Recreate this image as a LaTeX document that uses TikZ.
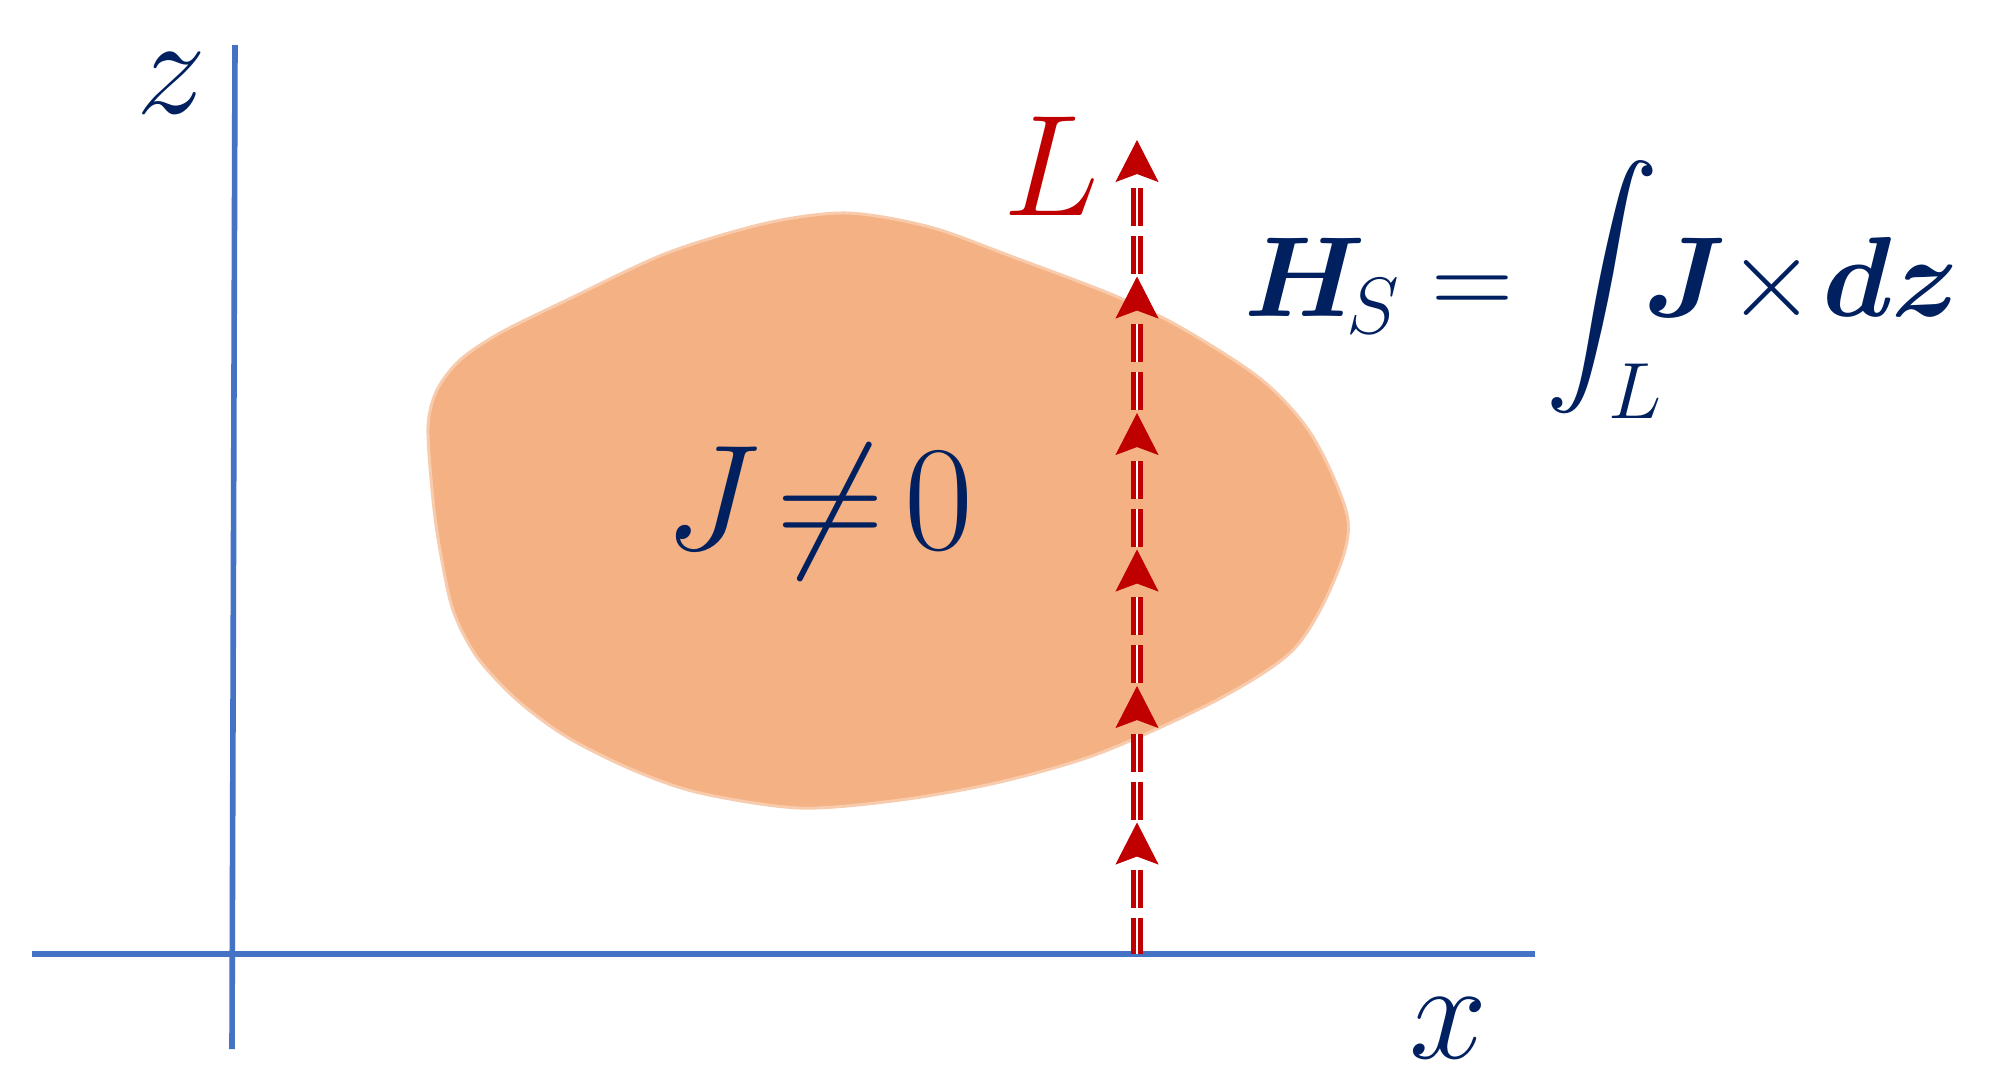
\documentclass[tikz,border=0pt]{standalone}
\usepackage{fix-cm}
\usepackage{amsmath}
\usepackage{bm}
\DeclareFontShape{OMX}{cmex}{m}{n}{<->cmex10}{}
\usetikzlibrary{arrows.meta,decorations.markings}
\definecolor{axisblue}{HTML}{4472C4}
\definecolor{navy}{HTML}{002060}
\definecolor{darkred}{HTML}{C00000}
\definecolor{blobfill}{HTML}{F4B183}
\definecolor{blobedge}{HTML}{F8CBAD}
\tikzset{
  axisline/.style={draw=axisblue, line width=2.8pt},
  axislabel/.style={text=navy, font=\fontsize{70}{80}\selectfont, inner sep=0pt, anchor=base},
  pathline/.style={draw=darkred, line width=2.6pt, double=white, double distance=0.8pt,
     dash pattern=on 19pt off 5pt on 19pt off 25.25pt, dash phase=1pt},
  tipmark/.tip={Stealth[length=21pt, width=21.5pt, inset=4pt]},
}
\begin{document}
\begin{tikzpicture}[x=0.5pt,y=-0.5pt]
\useasboundingbox (0,0) rectangle (1990,1089);
\fill[white] (0,0) rectangle (1990,1089);
% blob
\draw[fill=blobfill, draw=blobedge, line width=1.5pt]
  plot[smooth cycle, tension=0.5] coordinates {
  (847,213) (930,227) (1013,257) (1113,295) (1180,327) (1262,380) (1313,437)
  (1348,520) (1333,583) (1293,650) (1217,700) (1100,753) (1000,782) (900,800)
  (800,808) (700,793) (633,770) (567,737) (517,700) (477,657) (453,610)
  (440,550) (433,500) (428,427) (437,390) (460,360) (500,333) (567,300)
  (667,253) (767,223)};
% axes
\coordinate (zbot) at (232,1049);
\coordinate (ztop) at (235,45);
\coordinate (xleft) at (32,954);
\coordinate (xright) at (1535,954);
\draw[axisline] (zbot) -- (ztop);
\draw[axisline] (xleft) -- (xright);
\node[axislabel] (zlab) at (171,113) {$z$};
\node[axislabel] (xlab) at (1448,1058) {$x$};
% path L
\coordinate (Lbase) at (1137,954);
\coordinate (Ltop) at (1137,140);
\draw[pathline] (Lbase) -- (Ltop);
\path[decoration={markings,
   mark=at position 65.75pt with {\arrow[darkred]{tipmark}},
   mark=at position 134pt with {\arrow[darkred]{tipmark}},
   mark=at position 202.25pt with {\arrow[darkred]{tipmark}},
   mark=at position 270.5pt with {\arrow[darkred]{tipmark}},
   mark=at position 338.75pt with {\arrow[darkred]{tipmark}},
   mark=at position 1 with {\arrow[darkred]{tipmark}}},
   postaction=decorate] (Lbase) -- (Ltop);
\node[text=darkred, font=\fontsize{72}{80}\selectfont, inner sep=0pt, anchor=base] (Llab) at (1051,215) {$L$};
% labels
\node[text=navy, font=\fontsize{75}{85}\selectfont, inner sep=0pt, anchor=base] (jlab) at (819,549)
  {$J\mkern-3mu\neq\mkern-2.5mu 0$};
\node[text=navy, font=\fontsize{57}{66}\selectfont, inner sep=0pt, anchor=base west] (hs) at (1244,316)
  {$\displaystyle \bm{H}_{\kern-5pt S}=\int_{L}\mkern-6mu\bm{J}\mkern-4mu\times\mkern-3mu\bm{dz}$};
\end{tikzpicture}
\end{document}
